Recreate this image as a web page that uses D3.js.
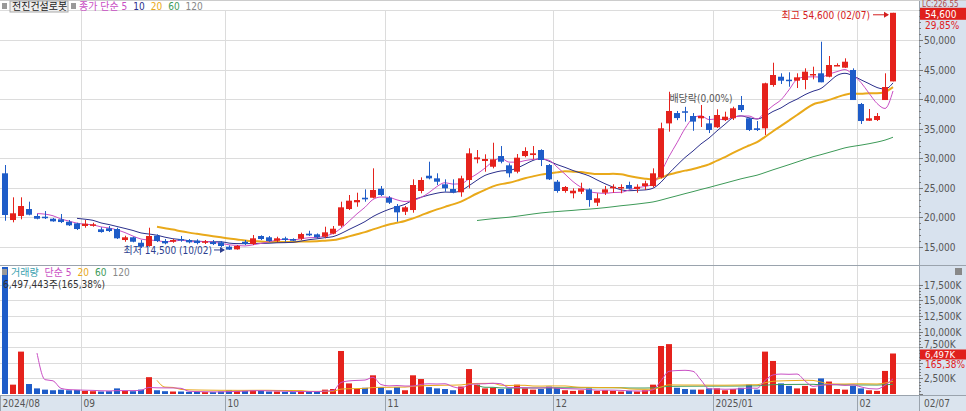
<!DOCTYPE html>
<html><head><meta charset="utf-8">
<script src="https://cdn.jsdelivr.net/npm/d3@7/dist/d3.min.js"></script>
<style>
html,body{margin:0;padding:0;background:#fff;}
svg{display:block;font-family:"DejaVu Sans Condensed","Liberation Sans Narrow","Noto Sans CJK KR",sans-serif;}
</style></head>
<body><svg id="c" width="966" height="411"></svg>
<script>
// ---------- DATA ----------
const opens = [27460,19560,20240,21420,20240,20120,19780,19680,19270,19000,
18550,18600,17990,18160,18040,16180,16640,15720,15170,16910,
16010,15890,16350,16180,16060,15720,15840,15790,15050,14600,
15890,15500,16860,16640,16060,16470,16350,16400,17250,17140,
16740,17250,18600,21420,22560,23330,23330,24850,23330,21930,
20960,21250,24470,27050,26610,25600,24800,24250,26330,29830,
29540,28570,30380,28810,27730,30380,30550,31400,28860,26040,
24470,24080,24350,24750,22490,24180,24920,24970,25480,24800,
25310,25310,26780,35900,37650,37950,37150,36760,35900,35240,
36470,36760,39010,36760,35070,35070,42390,43790,43290,43120,
43240,44030,44370,43790,45600,45320,44930,39180,36350,36470,
39850,43000];
const highs = [28860,23400,23400,22660,20580,21080,19900,20580,19560,19100,
19560,19100,18330,18550,18260,16910,16740,16180,18260,17140,
16350,16350,16860,16350,16300,16180,16180,16010,15280,15330,
16180,17030,16980,16860,16740,16740,16470,17420,17750,17300,
18430,18550,22660,23790,24180,24750,28300,25310,23620,22270,
21930,26440,26780,29420,27460,26440,26440,27050,31690,31400,
30670,32630,32070,29150,30720,31860,32070,31520,29030,26330,
25310,24920,25870,24920,24080,25310,25600,25600,26040,25600,
26210,28300,36020,41250,38000,38700,37650,39010,37150,38280,
37880,38720,40530,36810,36300,42780,46160,44370,44540,44370,
45210,45490,49710,47290,46060,46900,45210,39350,38330,37650,
44370,54600];
const lows = [19440,19170,19680,20360,19680,19730,19270,19050,18550,17870,
18260,18430,17420,17530,16350,15890,15790,14830,15050,15840,
15450,15720,15890,15620,15450,15500,15330,14940,14500,14550,
15330,15330,16180,15890,15840,15890,16010,16180,16860,16400,
16470,17140,18330,21250,21810,22660,23230,23620,22270,19270,
20410,20800,24080,26440,25480,24350,24080,23500,24920,29150,
27730,28300,29150,26780,27460,30160,29830,28690,26330,24180,
24180,23230,23960,21810,21930,23790,24180,24080,24750,24180,
24640,25090,26610,34500,36450,36200,34650,35290,34270,35120,
36300,36470,37820,34610,34610,33940,42100,42560,42100,41880,
41660,43350,42850,43690,45600,45270,39850,35800,36300,36300,
39850,43000];
const closes = [20410,20700,21930,20460,19780,19900,19340,19220,18670,18040,
18940,18830,17530,17700,16470,16640,15890,15050,16860,16010,
15620,16180,16130,15790,15670,15960,15500,15170,14550,15170,
15500,16470,16350,16010,16470,16180,16060,17190,16970,16640,
17480,18090,21710,22830,22940,23060,24640,23790,22490,20860,
21710,25480,26330,26610,26040,24920,24250,26610,30840,30160,
29880,29830,29420,27460,30100,31230,30840,29710,26440,24470,
25140,24520,24920,22940,23230,24750,25190,25140,24850,25190,
25770,27460,35070,38000,36800,37800,36200,37150,34780,37320,
37030,38450,38160,34780,34780,42680,44080,43120,43190,43690,
44640,44250,42850,45770,45770,46330,39850,36300,36760,37150,
42050,54600];
// volume in thousands of shares
const volumes = [22000,1500,6800,1600,900,700,600,700,600,650,
500,450,400,450,900,500,450,700,2700,600,
450,400,400,350,350,300,300,400,600,500,
500,600,500,400,400,350,300,500,400,400,
700,800,6900,1700,800,1000,3000,1100,600,1100,
600,3000,2400,1100,900,800,600,1200,4000,1500,
900,1000,800,900,1500,900,700,800,1200,1000,
600,500,600,900,500,600,500,400,500,400,
600,1500,7700,8000,1000,800,700,700,900,900,
600,800,1000,1500,700,6800,5300,1700,1300,900,
1300,900,2500,2000,800,700,1300,900,600,500,
3700,6497];
const monthIdx = [0,10,28,48,69,89,107];
const monthLabels = ["2024/08","09","10","11","12","2025/01","02"];
const priceTicks = [15000,20000,25000,30000,35000,40000,45000,50000];
const volTicks = [2500,5000,7500,10000,12500,15000,17500];
const volTickLabels = ["2,500K","","7,500K","10,000K","12,500K","15,000K","17,500K"];

// ---------- LAYOUT ----------
const svg = d3.select("#c");
const W=966,H=411, plotR=919, priceTop=10, priceBot=265, volTop=266, volBot=395;
const UP="#e5221c", DN="#1e5cc8";
const maColors = {5:"#c94fc4",10:"#2b2f8c",20:"#e9a91a",60:"#3d9a58",120:"#888"};

const x = d3.scaleBand().domain(d3.range(closes.length)).range([1,1+8*closes.length]).paddingInner(0.25).paddingOuter(0.125);
const cx = i => x(i)+x.bandwidth()/2;
const y = d3.scaleLinear().domain([15000,50000]).range([247,40]);
const yv = d3.scaleLinear().domain([0,17500]).range([394,284.9]);
const lastC = closes[closes.length-1], lastV = volumes[volumes.length-1];

svg.append("rect").attr("x",plotR).attr("y",0).attr("width",W-plotR).attr("height",H).attr("fill","#d8e2ee");
svg.append("rect").attr("x",0).attr("y",volBot).attr("width",W).attr("height",H-volBot).attr("fill","#dbe4ee");

const defs = svg.append("defs");
defs.append("clipPath").attr("id","cp").append("rect").attr("x",0).attr("y",priceTop).attr("width",plotR).attr("height",priceBot-priceTop);
defs.append("clipPath").attr("id","cv").append("rect").attr("x",0).attr("y",volTop+1).attr("width",plotR).attr("height",volBot-volTop-1);

// grids
const grid = svg.append("g").attr("stroke","#dcdcdc").attr("stroke-width",1);
[...priceTicks,55000].forEach(t=>{const yy=Math.round(y(t))+0.5; grid.append("line").attr("x1",0).attr("x2",plotR).attr("y1",yy).attr("y2",yy);});
volTicks.forEach(t=>{const yy=Math.round(yv(t))+0.5; grid.append("line").attr("x1",0).attr("x2",plotR).attr("y1",yy).attr("y2",yy);});
monthIdx.slice(1).forEach(i=>{const xx=Math.round(x(i)-1)+0.5; grid.append("line").attr("x1",xx).attr("x2",xx).attr("y1",priceTop).attr("y2",volBot);});

// MAs
function sma(arr,n){return arr.map((v,i)=> i<n-1?null: d3.mean(arr.slice(i-n+1,i+1)));}
const gp = svg.append("g").attr("clip-path","url(#cp)");
const line = d3.line().defined(d=>d.v!=null).x(d=>cx(d.i)).y(d=>y(d.v)).curve(d3.curveMonotoneX);
[60,20,10,5].forEach(n=>{
  const data = sma(closes,n).map((v,i)=>({i,v}));
  gp.append("path").attr("d",line(data)).attr("fill","none").attr("stroke",maColors[n]).attr("stroke-width",n===20?2:1);
});

// candles
const cg = gp.append("g");
closes.forEach((c,i)=>{
  const o=opens[i], up=c>=o, col=up?UP:DN;
  const xx=Math.round(cx(i))+0.5;
  cg.append("line").attr("x1",xx).attr("x2",xx).attr("y1",y(highs[i])).attr("y2",y(lows[i])).attr("stroke",col);
  const top=y(Math.max(o,c)), bot=y(Math.min(o,c));
  cg.append("rect").attr("x",Math.round(x(i))).attr("y",top).attr("width",Math.round(x.bandwidth())).attr("height",Math.max(1.5,bot-top)).attr("fill",col);
});

// annotations
const iMin = d3.minIndex(lows), iMax = d3.maxIndex(highs);
svg.append("text").attr("x",x(iMin)-14).attr("y",y(lows[iMin])+4).attr("text-anchor","end").attr("font-size",10).attr("fill","#2d3f8f").text("최저 14,500 (10/02)");
svg.append("line").attr("x1",x(iMin)-12).attr("x2",x(iMin)-2).attr("y1",y(lows[iMin])).attr("y2",y(lows[iMin])).attr("stroke","#2d3f8f");
svg.append("path").attr("d",`M${x(iMin)-1},${y(lows[iMin])} l-5,-3 v6 z`).attr("fill","#2d3f8f");
svg.append("text").attr("x",x(iMax)-20).attr("y",y(highs[iMax])+6).attr("text-anchor","end").attr("font-size",10).attr("fill","#d42020").text("최고 54,600 (02/07)");
svg.append("line").attr("x1",x(iMax)-17).attr("x2",x(iMax)-2).attr("y1",y(highs[iMax])+2).attr("y2",y(highs[iMax])+2).attr("stroke","#d42020");
svg.append("path").attr("d",`M${x(iMax)-1},${y(highs[iMax])+2} l-5,-3 v6 z`).attr("fill","#d42020");
svg.append("text").attr("x",cx(87)).attr("y",y(highs[87])-3).attr("text-anchor","middle").attr("font-size",10).attr("fill","#555").text("배당락(0,00%)");

// volume
const gv = svg.append("g").attr("clip-path","url(#cv)");
svg.append("text").attr("x",3).attr("y",288).attr("font-size",10).attr("fill","#333").text("6,497,443주(165,38%)");
volumes.forEach((v,i)=>{
  const col = closes[i]>=opens[i]?UP:DN;
  gv.append("rect").attr("x",Math.round(x(i))).attr("y",yv(v)).attr("width",Math.round(x.bandwidth())).attr("height",yv(0)-yv(v)).attr("fill",col);
});
const vline = d3.line().defined(d=>d.v!=null).x(d=>cx(d.i)).y(d=>yv(d.v)).curve(d3.curveMonotoneX);
[60,20,5].forEach(n=>{
  const data = sma(volumes,n).map((v,i)=>({i,v}));
  gv.append("path").attr("d",vline(data)).attr("fill","none").attr("stroke",maColors[n]).attr("stroke-width",1);
});

// borders
const bd = svg.append("g").attr("stroke","#9aa3ad");
bd.append("line").attr("x1",plotR+0.5).attr("x2",plotR+0.5).attr("y1",0).attr("y2",H);
bd.append("line").attr("x1",0).attr("x2",W).attr("y1",priceBot+0.5).attr("y2",priceBot+0.5);
bd.append("line").attr("x1",0).attr("x2",W).attr("y1",volBot+0.5).attr("y2",volBot+0.5);
bd.append("line").attr("x1",0).attr("x2",W).attr("y1",0.5).attr("y2",0.5).attr("stroke","#ccc");

// right axes
const ax = svg.append("g").attr("font-size",10).attr("fill","#555");
d3.range(15000,55001,1000).forEach(t=>{const yy=Math.round(y(t))+0.5; ax.append("line").attr("x1",plotR).attr("x2",plotR+(t%5000===0?4:2)).attr("y1",yy).attr("y2",yy).attr("stroke","#777");});
priceTicks.forEach(t=>ax.append("text").attr("x",plotR+5).attr("y",y(t)+4).text(d3.format(",")(t)));
d3.range(0,18000,500).forEach(t=>{const yy=Math.round(yv(t))+0.5; if(yy>volTop+2) ax.append("line").attr("x1",plotR).attr("x2",plotR+(t%2500===0?4:2)).attr("y1",yy).attr("y2",yy).attr("stroke","#777");});
volTicks.forEach((t,k)=>{ if(volTickLabels[k]) ax.append("text").attr("x",plotR+5).attr("y",yv(t)+(t===7500?0.5:4)).text(volTickLabels[k]); });

// last value boxes
svg.append("text").attr("x",plotR+3).attr("y",7).attr("font-size",8).attr("fill","#b04848").text("LC:226.55");
svg.append("rect").attr("x",plotR+1).attr("y",y(lastC)-5).attr("width",W-plotR-1).attr("height",12).attr("fill","#e0201c");
svg.append("text").attr("x",plotR+6).attr("y",y(lastC)+5).attr("font-size",10).attr("fill","#fff").text(d3.format(",")(lastC));
svg.append("text").attr("x",plotR+6).attr("y",y(lastC)+16).attr("font-size",10).attr("fill","#e0201c").text("29,85%");
svg.append("rect").attr("x",plotR+1).attr("y",yv(lastV)-4).attr("width",W-plotR-1).attr("height",10).attr("fill","#e0201c");
svg.append("text").attr("x",plotR+6).attr("y",yv(lastV)+4.5).attr("font-size",9.5).attr("fill","#fff").text("6,497K");
svg.append("text").attr("x",plotR+6).attr("y",yv(lastV)+15).attr("font-size",10).attr("fill","#e0201c").text("165,38%");
svg.append("rect").attr("x",955).attr("y",268).attr("width",7).attr("height",7).attr("fill","#888");

// date axis
const da = svg.append("g").attr("font-size",10).attr("fill","#555");
monthIdx.forEach((i,k)=>{
  const xx = i===0?0.5:Math.round(x(i)-1)+0.5;
  da.append("line").attr("x1",xx).attr("x2",xx).attr("y1",volBot).attr("y2",H).attr("stroke","#9aa3ad");
  da.append("text").attr("x",xx+2).attr("y",407).text(monthLabels[k]);
});
da.append("text").attr("x",plotR+5).attr("y",407).text("02/07");

// legends
const lg = svg.append("g").attr("font-size",10);
lg.append("rect").attr("x",2).attr("y",3).attr("width",5).attr("height",6).attr("fill","#999");
lg.append("rect").attr("x",10).attr("y",1).attr("width",58).attr("height",11).attr("fill","#eee").attr("stroke","#aaa");
lg.append("text").attr("x",12).attr("y",10).attr("fill","#222").text("전진건설로봇");
lg.append("rect").attr("x",71).attr("y",3).attr("width",5).attr("height",6).attr("fill","#999");
let lx=79;
[["종가 단순 5",maColors[5]],["10",maColors[10]],["20",maColors[20]],["60",maColors[60]],["120","#888"]].forEach(([t,c])=>{
  const tx=lg.append("text").attr("x",lx).attr("y",10).attr("fill",c).text(t);
  lx += tx.node().getComputedTextLength()+6;
});
lg.append("rect").attr("x",2).attr("y",269).attr("width",5).attr("height",6).attr("fill","#999");
lx=11;
[["거래량","#3a9fb0"],["단순 5",maColors[5]],["20",maColors[20]],["60",maColors[60]],["120","#888"]].forEach(([t,c])=>{
  const tx=lg.append("text").attr("x",lx).attr("y",276).attr("fill",c).text(t);
  lx += tx.node().getComputedTextLength()+6;
});
</script></body></html>
